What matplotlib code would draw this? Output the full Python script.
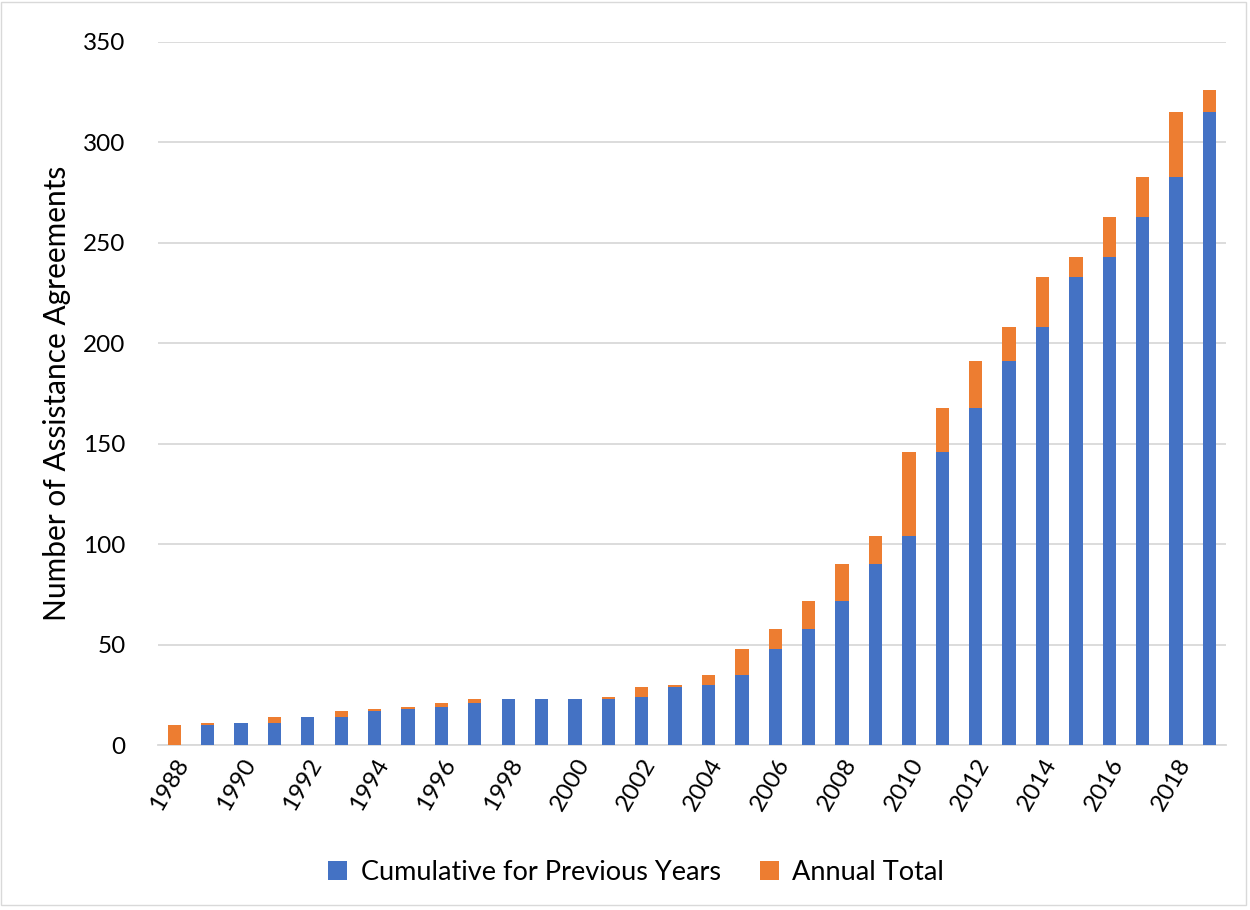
import matplotlib.pyplot as plt
import numpy as np
from matplotlib.patches import Rectangle

plt.rcParams['font.family'] = ['Lato', 'DejaVu Sans']

years = list(range(1988, 2020))
cumulative = [0, 10, 11, 11, 14, 14, 17, 18, 19, 21, 23, 23, 23, 23, 24, 29,
              30, 35, 48, 58, 72, 90, 104, 146, 168, 191, 208, 233, 243, 263, 283, 315]
annual = [10, 1, 0, 3, 0, 3, 1, 1, 2, 2, 0, 0, 0, 1, 5, 1,
          5, 13, 10, 14, 18, 14, 42, 22, 23, 17, 25, 10, 20, 20, 32, 11]

blue = '#4472C4'
orange = '#ED7D31'

fig = plt.figure(figsize=(12.5, 9.1), dpi=100)
ax = fig.add_axes([0.126, 0.181, 0.855, 0.773])

x = np.arange(len(years))
ax.bar(x, cumulative, width=0.4, color=blue, label='Cumulative for Previous Years', zorder=3)
ax.bar(x, annual, width=0.4, bottom=cumulative, color=orange, label='Annual Total', zorder=3)

ax.set_xlim(-0.5, len(years) - 0.5)
ax.set_ylim(0, 350)
ax.set_yticks(np.arange(0, 351, 50))
ax.yaxis.grid(True, color='#D9D9D9', linewidth=1.3, zorder=0)
ax.set_axisbelow(True)

ax.set_xticks(x[::2])
ax.set_xticklabels([str(y) for y in years[::2]], rotation=60, ha='right',
                   rotation_mode='anchor', fontsize=17.5)
ax.tick_params(axis='y', labelsize=17.5, length=0, pad=23)
ax.tick_params(axis='x', length=0, pad=7)

for s in ['top', 'right', 'left']:
    ax.spines[s].set_visible(False)
ax.spines['bottom'].set_color('#D9D9D9')
ax.spines['bottom'].set_linewidth(1.3)

ax.set_ylabel('Number of Assistance Agreements', fontsize=21.5, labelpad=9)

fig.legend(loc='center', bbox_to_anchor=(0.509, 0.041), ncol=2, frameon=False,
           fontsize=19.5, handlelength=0.7, handleheight=0.7, columnspacing=1.45,
           handletextpad=0.5)

fig.patches.append(Rectangle((0.001, 0.006), 0.996, 0.992, transform=fig.transFigure,
                             fill=False, edgecolor='#D9D9D9', linewidth=1))

fig.savefig('out.png', dpi=100)
